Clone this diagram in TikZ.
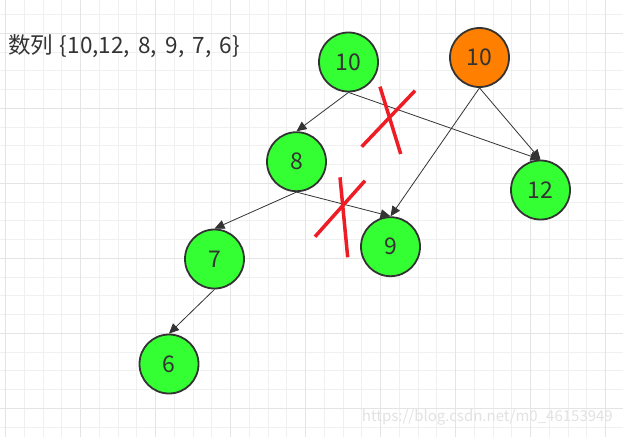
\documentclass[tikz,border=0pt]{standalone}
\usepackage{fontspec}
\setmainfont{Noto Sans CJK SC}
\usetikzlibrary{arrows.meta,positioning}
\definecolor{gridmin}{HTML}{F0F0F0}
\definecolor{gridmaj}{HTML}{E4E4E4}
\definecolor{nodegreen}{HTML}{33FF33}
\definecolor{nodeorange}{HTML}{FF8000}
\definecolor{inkdark}{HTML}{333333}
\definecolor{crossred}{HTML}{EE1C25}
\definecolor{markgray}{HTML}{E2E2E2}
\tikzset{
  treenode/.style={circle,draw=inkdark,line width=1.8pt,fill=nodegreen,
                   minimum size=59pt,inner sep=0pt,text=inkdark,
                   font=\fontsize{23}{25}\selectfont},
  edge/.style={-{Triangle[length=10pt,width=9pt]},line width=0.8pt,inkdark},
  crossline/.style={crossred,line width=3.5pt},
}

\begin{document}
\begin{tikzpicture}[x=1pt,y=-1pt]
  \useasboundingbox (0,0) rectangle (623,437);
  \fill[white] (0,0) rectangle (623,437);
  % background grid
  \foreach \gx in {0,...,33}
    \draw[gridmin,line width=1pt] (5.7+18.75*\gx,0) -- (5.7+18.75*\gx,437);
  \foreach \gy in {0,...,22}
    \draw[gridmin,line width=1pt] (0,14.55+18.75*\gy) -- (623,14.55+18.75*\gy);
  \foreach \gx in {0,...,8}
    \draw[gridmaj,line width=1.4pt] (5.7+75*\gx,0) -- (5.7+75*\gx,437);
  \foreach \gy in {0,...,5}
    \draw[gridmaj,line width=1.4pt] (0,33.3+75*\gy) -- (623,33.3+75*\gy);

  \node[anchor=west,inner sep=0pt,text=inkdark,font=\fontsize{22.5}{25}\selectfont]
    (title) at (8,46) {数列\hspace{0.3em}\{10,12,\hspace{0.15em} 8,\hspace{0.15em} 9,\hspace{0.15em} 7,\hspace{0.15em} 6\}};

  % nodes
  \node[treenode] (n10) at (348.5,62) {10};
  \node[treenode,fill=nodeorange] (n10new) at (479.5,57.5) {10};
  \node[treenode] (n8) at (296.5,161.7) {8};
  \node[treenode] (n12) at (540.5,190) {12};
  \node[treenode] (n9) at (390.5,246.7) {9};
  \node[treenode] (n7) at (214.5,259) {7};
  \node[treenode] (n6) at (169,364) {6};

  % edges
  \draw[edge] (n10.south) -- (n8.north);
  \draw[edge] (n10.south) -- (n12.north);
  \draw[edge] (n10new.south) -- (n9.north);
  \draw[edge] (n10new.south) -- (n12.north);
  \draw[edge] (n8.south) -- (n7.north);
  \draw[edge] (n8.south) -- (n9.north);
  \draw[edge] (n7.south) -- (n6.north);

  % crossed out links
  \draw[crossline] (380,86.7) -- (400.7,154);
  \draw[crossline] (415,90.7) -- (361.7,146.7);
  \draw[crossline] (340,177.3) -- (347.7,257.3);
  \draw[crossline] (365,180.7) -- (315,236.7);

  \node[anchor=east,inner sep=0pt,text=markgray,font=\fontsize{15}{17}\selectfont]
    (mark) at (613,417) {https://blog.csdn.net/m0\_46153949};
\end{tikzpicture}
\end{document}
